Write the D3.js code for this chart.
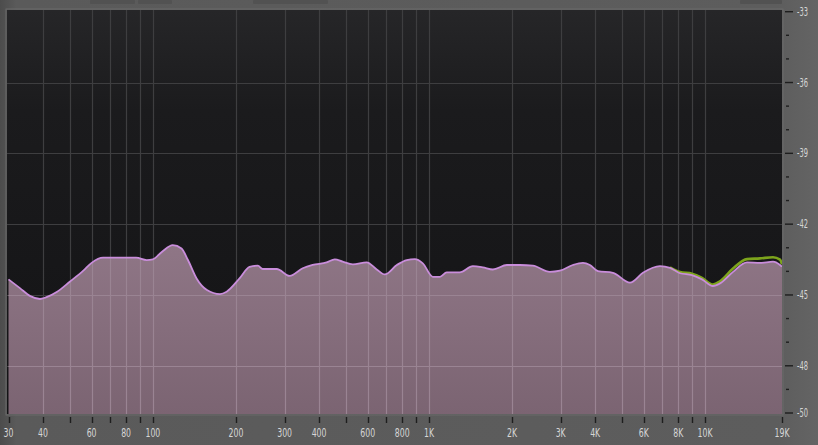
<!DOCTYPE html>
<html><head><meta charset="utf-8">
<script src="https://cdn.jsdelivr.net/npm/d3@7"></script>
<style>
html,body{margin:0;padding:0;background:#5a5a5a;overflow:hidden}
svg{display:block}
text{font-family:"Liberation Sans Narrow","DejaVu Sans Condensed","Roboto",sans-serif;fill:#d6d6d6}
</style></head>
<body>
<svg id="chart" width="818" height="445"></svg>
<script>
// ---- data (frequency in Hz, level in dB) ----
const freqs = [30,33,36,39,41,45,50,56,60,66,74,87,95,100,108,118,127,134,144,157,
  175,185,206,224,240,250,281,313,349,379,426,456,487,530,595,647,692,765,831,889,
  950,1033,1095,1160,1293,1442,1567,1704,1915,2134,2379,2741,2980,3321,3612,3828,4093,4638,5346,5959,
  6865,7465,8115,8968,9750,10684,11328,12627,14194,15817,17628,18687,19000];
const levels = [-44.34,-44.71,-45.05,-45.17,-45.10,-44.86,-44.44,-43.97,-43.64,-43.42,
  -43.42,-43.42,-43.52,-43.49,-43.17,-42.89,-43.03,-43.52,-44.30,-44.79,
  -44.96,-44.86,-44.30,-43.81,-43.76,-43.90,-43.90,-44.19,-43.87,-43.73,
  -43.62,-43.49,-43.59,-43.70,-43.62,-43.92,-44.13,-43.73,-43.52,-43.48,
  -43.66,-44.23,-44.23,-44.04,-44.04,-43.78,-43.83,-43.92,-43.73,-43.73,
  -43.76,-44.02,-43.97,-43.73,-43.64,-43.73,-43.99,-44.06,-44.48,-44.06,
  -43.78,-43.85,-44.08,-44.16,-44.34,-44.62,-44.51,-44.02,-43.62,-43.64,
  -43.59,-43.73,-43.80];
const peakFreqs = [7465,8115,8968,9750,10684,11328,12627,14194,15817,17628,18687,19000];
const peakLevels = [-43.83,-44.03,-44.10,-44.28,-44.56,-44.42,-43.88,-43.48,-43.45,-43.40,-43.50,-43.70];

const freqTicks = [30,40,50,60,70,80,90,100,200,300,400,500,600,700,800,900,1000,2000,3000,4000,5000,6000,7000,8000,9000,10000,19000];
const freqLabels = {30:"30",40:"40",60:"60",80:"80",100:"100",200:"200",300:"300",400:"400",600:"600",800:"800",1000:"1K",2000:"2K",3000:"3K",4000:"4K",6000:"6K",8000:"8K",10000:"10K",19000:"19K"};
const dbMajor = [-33,-36,-39,-42,-45,-48,-50];
const dbMinor = [-34,-35,-37,-38,-40,-41,-43,-44,-46,-47,-49];
const dbGrid = [-36,-39,-42,-45,-48];

// ---- layout ----
const W = 818, H = 445;
const plot = {l:7, r:782, t:10, b:414};
const x = d3.scaleLog().domain([30,19000]).range([8.5,782]);
const y = d3.scaleLinear().domain([-50,-33]).range([413,11.7]);

const svg = d3.select("#chart");
const defs = svg.append("defs");

const bgG = defs.append("linearGradient").attr("id","bgG").attr("x1",0).attr("x2",1).attr("y1",0).attr("y2",0);
bgG.append("stop").attr("offset","0").attr("stop-color","#4c4c4c");
bgG.append("stop").attr("offset","0.02").attr("stop-color","#5a5a5a");
bgG.append("stop").attr("offset","0.95").attr("stop-color","#5d5d5d");
bgG.append("stop").attr("offset","1").attr("stop-color","#646464");

const plotG = defs.append("linearGradient").attr("id","plotG").attr("x1",0).attr("x2",0).attr("y1",0).attr("y2",1);
plotG.append("stop").attr("offset","0").attr("stop-color","#262628");
plotG.append("stop").attr("offset","0.25").attr("stop-color","#1b1b1d");
plotG.append("stop").attr("offset","1").attr("stop-color","#131315");

const fillG = defs.append("linearGradient").attr("id","fillG").attr("x1",0).attr("x2",0).attr("y1",0).attr("y2",1);
fillG.append("stop").attr("offset","0").attr("stop-color","#8f7686");
fillG.append("stop").attr("offset","1").attr("stop-color","#7b6472");

defs.append("clipPath").attr("id","plotClip").append("rect")
  .attr("x",plot.l).attr("y",plot.t).attr("width",plot.r-plot.l).attr("height",plot.b-plot.t);

// page background
svg.append("rect").attr("width",W).attr("height",H).attr("fill","url(#bgG)");
// faint top UI elements
[[90,135],[138,172],[253,328],[740,782]].forEach(([a,b])=>{
  svg.append("rect").attr("x",a).attr("y",0).attr("width",b-a).attr("height",4).attr("rx",1).attr("fill","#525252");
});

// plot frame & background
svg.append("rect").attr("x",plot.l-1).attr("y",plot.t-1).attr("width",plot.r-plot.l+2).attr("height",plot.b-plot.t+2)
  .attr("fill","none").attr("stroke","#6a6a6a").attr("stroke-width",1);
svg.append("rect").attr("x",plot.l).attr("y",plot.t).attr("width",plot.r-plot.l).attr("height",plot.b-plot.t)
  .attr("fill","url(#plotG)");

const gPlot = svg.append("g").attr("clip-path","url(#plotClip)");

// grid (dark area)
const gridV = freqTicks.filter(f => f>30 && f<19000);
gPlot.selectAll(".vg").data(gridV).join("line")
  .attr("x1",d=>Math.round(x(d))+0.5).attr("x2",d=>Math.round(x(d))+0.5)
  .attr("y1",plot.t).attr("y2",plot.b).attr("stroke","#3e3e40").attr("stroke-width",1.2);
gPlot.selectAll(".hg").data(dbGrid).join("line")
  .attr("x1",plot.l).attr("x2",plot.r)
  .attr("y1",d=>Math.round(y(d))+0.5).attr("y2",d=>Math.round(y(d))+0.5)
  .attr("stroke","#3e3e40").attr("stroke-width",1.2);

const pts = freqs.map((f,i)=>[f,levels[i]]);
const peakPts = peakFreqs.map((f,i)=>[f,peakLevels[i]]);

const area = d3.area().x(d=>x(d[0])).y0(plot.b).y1(d=>y(d[1])).curve(d3.curveMonotoneX);
const line = d3.line().x(d=>x(d[0])).y(d=>y(d[1])).curve(d3.curveMonotoneX);

// fill
gPlot.append("path").datum(pts).attr("d",area).attr("fill","url(#fillG)");

// grid inside the fill (lighter)
const fillClipId = "fillClip";
defs.append("clipPath").attr("id",fillClipId).append("path").datum(pts).attr("d",area);
const gFillGrid = gPlot.append("g").attr("clip-path","url(#fillClip)");
gFillGrid.selectAll(".vg2").data(gridV).join("line")
  .attr("x1",d=>Math.round(x(d))+0.5).attr("x2",d=>Math.round(x(d))+0.5)
  .attr("y1",plot.t).attr("y2",plot.b).attr("stroke","#9a8493").attr("stroke-width",1.2);
gFillGrid.selectAll(".hg2").data(dbGrid).join("line")
  .attr("x1",plot.l).attr("x2",plot.r)
  .attr("y1",d=>Math.round(y(d))+0.5).attr("y2",d=>Math.round(y(d))+0.5)
  .attr("stroke","#9a8493").attr("stroke-width",1.2);

// peak (green) line under the main line
gPlot.append("path").datum(peakPts).attr("d",line).attr("fill","none")
  .attr("stroke","#7da41c").attr("stroke-width",2.6).attr("stroke-linejoin","round");
// main line
gPlot.append("path").datum(pts).attr("d",line).attr("fill","none")
  .attr("stroke","#c98ddb").attr("stroke-width",1.8).attr("stroke-linejoin","round");

// bottom axis ticks & labels
svg.selectAll(".xt").data(freqTicks).join("line")
  .attr("x1",d=>Math.round(x(d))+0.5).attr("x2",d=>Math.round(x(d))+0.5)
  .attr("y1",417).attr("y2",423).attr("stroke","#1e1e1e").attr("stroke-width",1.4);
svg.selectAll(".xl").data(freqTicks.filter(f=>freqLabels[f])).join("text")
  .attr("transform",d=>`translate(${x(d)},437) scale(0.72,1)`)
  .attr("text-anchor","middle").attr("font-size",12).text(d=>freqLabels[d]);

// right axis ticks & labels
svg.selectAll(".ym").data(dbMajor).join("line")
  .attr("x1",785).attr("x2",793).attr("y1",d=>y(d)).attr("y2",d=>y(d))
  .attr("stroke","#1e1e1e").attr("stroke-width",1.4);
svg.selectAll(".yn").data(dbMinor).join("line")
  .attr("x1",786).attr("x2",789).attr("y1",d=>y(d)).attr("y2",d=>y(d))
  .attr("stroke","#1e1e1e").attr("stroke-width",1.4);
svg.selectAll(".yl").data(dbMajor).join("text")
  .attr("transform",d=>`translate(797,${y(d)+4}) scale(0.62,1)`)
  .attr("text-anchor","start").attr("font-size",12).text(d=>String(d));
</script>
</body></html>
